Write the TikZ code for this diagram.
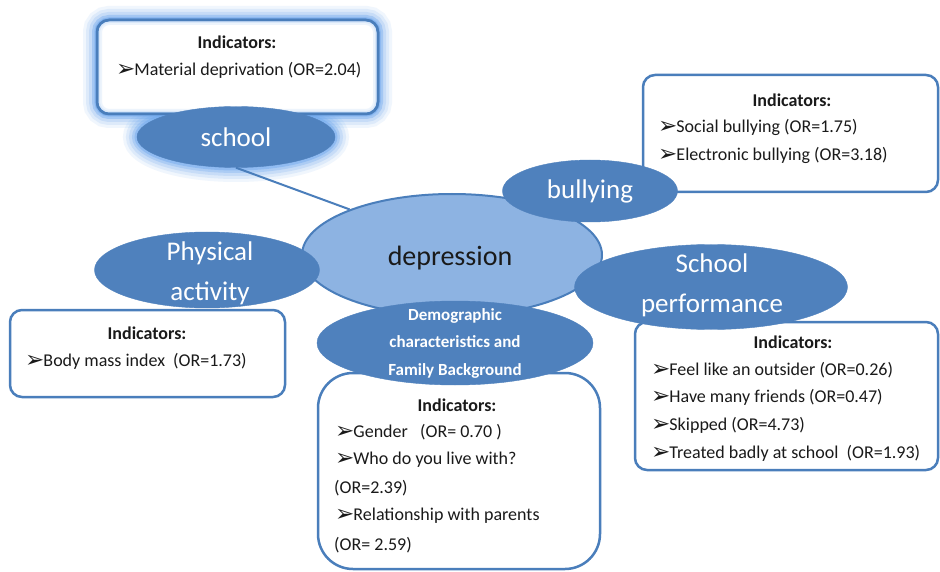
\documentclass[tikz,border=0pt]{standalone}
\usepackage{fontspec}
\setmainfont{Carlito}
\newfontfamily\dvfont{DejaVu Sans}
\usetikzlibrary{shapes.geometric}
\definecolor{ell}{HTML}{4F81BD}
\definecolor{ellb}{HTML}{4A7EBB}
\definecolor{deps}{HTML}{8DB3E2}
\definecolor{glowc}{HTML}{6FA8EE}
\definecolor{txt}{HTML}{1A1A1A}
\newcommand\bul{{\dvfont\fontsize{23}{17}\selectfont\raisebox{-1pt}{➢}}\kern-1pt}
\tikzset{
  topic/.style={ellipse, fill=ell, draw=ell, inner sep=0, text=white,
    font=\fontsize{27}{40}\selectfont, align=center},
  infobox/.style={rectangle, draw=ellb, line width=2.5, fill=white, rounded corners=12, inner sep=0},
  head/.style={font=\bfseries\fontsize{18}{22}\selectfont, text=txt, inner sep=0},
  item/.style={font=\fontsize{18}{22}\selectfont, text=txt, anchor=west, inner sep=0},
  glowline/.style={draw=glowc, rounded corners=12}
}
\begin{document}
\begin{tikzpicture}[x=1pt,y=-1pt]
\useasboundingbox (0,0) rectangle (940,572);
\fill[white] (0,0) rectangle (940,572);

% glow around school box and ellipse
\foreach \w/\o in {28/0.10,22/0.14,16/0.2,10/0.3,5/0.45}{
  \draw[glowline, line width=\w, opacity=\o] (97,20) rectangle (378,114);
  \draw[draw=glowc, line width=\w, opacity=\o] (236,137) ellipse [x radius=99, y radius=31];
}

% boxes
\node[infobox, minimum width=281, minimum height=94] (schoolbox) at (237.5,67) {};
\foreach \w/\o in {10/0.12,6/0.15,3/0.2}{
  \draw[glowline, line width=\w, opacity=\o] (97,20) rectangle (378,114);
}
\draw[ellb, line width=2.5, rounded corners=12] (97,20) rectangle (378,114);
\node[infobox, minimum width=295, minimum height=117] (bullybox) at (790.5,133.5) {};
\node[infobox, minimum width=275, minimum height=87] (physbox) at (147.5,353.5) {};
\node[infobox, minimum width=303, minimum height=148] (perfbox) at (786.5,396) {};
\node[infobox, rounded corners=35, minimum width=282, minimum height=196] (demobox) at (459,471) {};

% central ellipse
\node[ellipse, fill=deps, draw=ellb, line width=2, inner sep=0, minimum width=300, minimum height=122] (dep) at (452,255) {};
\node[text=txt, font=\fontsize{28}{30}\selectfont, inner sep=0] (deptext) at (450,258) {depression};

% topic ellipses
\node[topic, minimum width=198, minimum height=61] (school) at (236,137) {school};
\draw[ellb, line width=2] (school.south) -- (dep.156);
\node[topic, minimum width=175, minimum height=62] (bully) at (590,191) {bullying};
\node[topic, minimum width=225, minimum height=76] (phys) at (207,270) {};
\node[text=white, font=\fontsize{27}{40}\selectfont, align=center, inner sep=0] (physt) at (210,273) {Physical\\activity};
\node[topic, minimum width=273, minimum height=85] (perf) at (711,287) {};
\node[text=white, font=\fontsize{27}{40}\selectfont, align=center, inner sep=0] (perft) at (712,285) {School\\performance};
\node[topic, minimum width=276, minimum height=84] (demo) at (455,343) {};
\node[text=white, font=\bfseries\fontsize{17}{27.5}\selectfont, align=center, inner sep=0] (demot) at (455,343) {Demographic\\characteristics and\\Family Background};

% school box text
\node[head] (h1) at (237,42) {Indicators:};
\node[item] (s1) at (116,70) {\bul Material deprivation (OR=2.04)};

% bullying box text
\node[head] (h2) at (792,100) {Indicators:};
\node[item] (b1) at (658,127) {\bul Social bullying (OR=1.75)};
\node[item] (b2) at (658,155) {\bul Electronic bullying (OR=3.18)};

% physical box text
\node[head] (h3) at (147,333) {Indicators:};
\node[item] (p1) at (25,361) {\bul Body mass index\ \ (OR=1.73)};

% performance box text
\node[head] (h4) at (793,342) {Indicators:};
\node[item] (f1) at (651,370) {\bul Feel like an outsider\ (OR=0.26)};
\node[item] (f2) at (651,397) {\bul Have many friends (OR=0.47)};
\node[item] (f3) at (651,425) {\bul Skipped (OR=4.73)};
\node[item] (f4) at (651,453) {\bul Treated badly at school\ \ (OR=1.93)};

% demographic box text
\node[head] (h5) at (457,405) {Indicators:};
\node[item] (d1) at (335,432) {\bul Gender\ \ \ (OR= 0.70 )};
\node[item] (d2) at (335,460) {\bul Who do you live with?};
\node[item] (d3) at (334,488) {(OR=2.39)};
\node[item] (d4) at (335,516) {\bul Relationship with parents};
\node[item] (d5) at (334,545) {(OR= 2.59)};
\end{tikzpicture}
\end{document}
